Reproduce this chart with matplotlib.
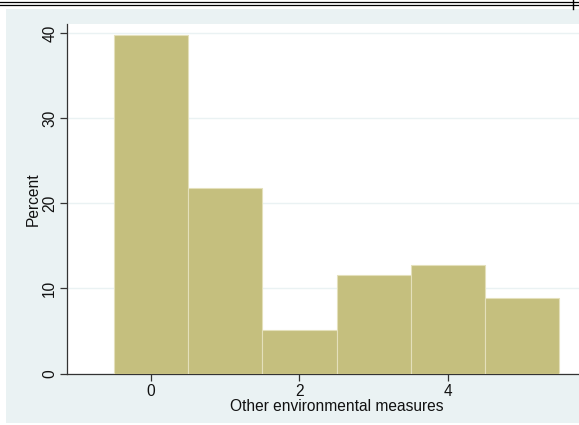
import matplotlib
matplotlib.use("Agg")
from matplotlib import pyplot as plt
from matplotlib.patches import Rectangle
from matplotlib.lines import Line2D

# histogram of "Other environmental measures" (percent per value)
values = [0, 1, 2, 3, 4, 5]
percent = [39.8, 21.8, 5.1, 11.6, 12.8, 8.9]
xticks = [0, 2, 4]
yticks = [0, 10, 20, 30, 40]

plt.rcParams['font.family'] = ['Liberation Sans', 'DejaVu Sans']

W, H = 579, 425
fig = plt.figure(figsize=(W / 100, H / 100), dpi=100, facecolor='white')

# outer light panel (Stata style), kept behind the axes
fig.patches.append(Rectangle((6 / W, (H - 423) / H), (W - 6) / W, (423 - 9) / H,
                             transform=fig.transFigure, facecolor='#eaf2f3',
                             edgecolor='none', zorder=-5))
# stray page rule at the very top
fig.lines.append(Line2D([0, 1], [1 - 2 / H, 1 - 2 / H], transform=fig.transFigure, color='black', lw=0.9))
fig.lines.append(Line2D([0, 1], [1 - 4.5 / H, 1 - 4.5 / H], transform=fig.transFigure, color='black', lw=0.9))
fig.lines.append(Line2D([573 / W, 573 / W], [1, 1 - 9 / H], transform=fig.transFigure, color='black', lw=1))

# the original graph is cropped on the right, so the axes run past the image edge
ax = fig.add_axes([67 / W, (H - 373.5) / H, (606 - 67) / W, (373.5 - 24) / H])
ax.set_facecolor('white')

ax.bar(values, percent, width=1.0, color='#c5bf7e', edgecolor='#e4e0bb', linewidth=0.8, zorder=3)

ax.set_xlim(-1.13, 6.13)
ax.set_ylim(0, 41.1)
ax.set_xticks(xticks)
ax.set_yticks(yticks)
ax.set_yticklabels([str(t) for t in yticks], rotation=90, va='center')
ax.grid(axis='y', color='#eaf2f3', linewidth=1, zorder=0)

for s in ['top', 'right']:
    ax.spines[s].set_visible(False)
for s in ['left', 'bottom']:
    ax.spines[s].set_color('#333333')
    ax.spines[s].set_linewidth(0.9)
ax.tick_params(axis='both', colors='#333333', labelcolor='#111111', labelsize=11.2,
               length=5, width=0.9, direction='out')
ax.tick_params(axis='y', pad=2)
ax.tick_params(axis='x', pad=2.5)

ax.set_xlabel('Other environmental measures', fontsize=11.2, color='#111111', labelpad=0)
ax.set_ylabel('Percent', fontsize=11.2, color='#111111', labelpad=1)

fig.savefig('out.png', dpi=100)
